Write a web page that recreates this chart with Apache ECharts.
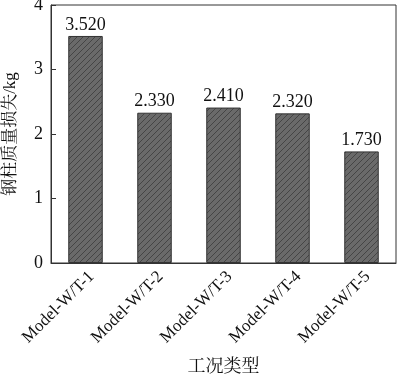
<!DOCTYPE html>
<html>
<head>
<meta charset="utf-8">
<script src="https://cdn.jsdelivr.net/npm/echarts@6/dist/echarts.min.js"></script>
<style>html,body{margin:0;padding:0;background:#fff}#c{width:400px;height:375px}</style>
</head>
<body>
<div id="c"></div>
<script>
const categories = ['Model-W/T-1', 'Model-W/T-2', 'Model-W/T-3', 'Model-W/T-4', 'Model-W/T-5'];
const massLoss = [3.52, 2.33, 2.41, 2.32, 1.73];
const yTicks = [0, 1, 2, 3, 4];
const xTitle = '工况类型';
const yTitle = '钢柱质量损失/kg';

const FONT = "'Liberation Serif', 'Noto Serif CJK SC', 'Noto Sans CJK SC', serif";

// hatch tile: dark diagonal lines "/" on grey
const T = 6;
const tile = document.createElement('canvas');
tile.width = T; tile.height = T;
const g = tile.getContext('2d');
g.fillStyle = '#6a6a6a';
g.fillRect(0, 0, T, T);
g.strokeStyle = '#454545';
g.lineWidth = 1;
g.beginPath();
g.moveTo(-T, T); g.lineTo(T, -T);
g.moveTo(0, T); g.lineTo(T, 0);
g.moveTo(0, 2 * T); g.lineTo(2 * T, 0);
g.stroke();

const chart = echarts.init(document.getElementById('c'), null, {renderer: 'canvas'});
chart.setOption({
  animation: false,
  grid: {left: 51, right: 4, top: 5, bottom: 112, outerBoundsMode: 'none', containLabel: false,
         show: true, borderColor: '#333', borderWidth: 1, backgroundColor: 'transparent'},
  xAxis: {
    type: 'category',
    data: categories,
    name: xTitle,
    nameLocation: 'middle',
    nameGap: 95,
    nameTextStyle: {fontFamily: FONT, fontSize: 18, color: '#111'},
    axisLine: {lineStyle: {color: '#333', width: 1}},
    axisTick: {show: false},
    axisLabel: {rotate: 45, fontFamily: FONT, fontSize: 17, color: '#111', margin: 5, interval: 0,
                align: 'right', verticalAlign: 'top'}
  },
  yAxis: {
    type: 'value',
    min: yTicks[0],
    max: yTicks[yTicks.length - 1],
    interval: 1,
    name: yTitle,
    nameLocation: 'middle',
    nameGap: 32,
    nameTextStyle: {fontFamily: FONT, fontSize: 17, color: '#111'},
    axisLine: {show: true, lineStyle: {color: '#333', width: 1}},
    axisTick: {show: true, inside: true, length: 5, lineStyle: {color: '#333'}},
    splitLine: {show: false},
    axisLabel: {fontFamily: FONT, fontSize: 18, color: '#111', margin: 8}
  },
  series: [{
    type: 'bar',
    data: massLoss,
    barWidth: '50%',
    itemStyle: {
      color: {image: tile, repeat: 'repeat'},
      borderColor: '#333',
      borderWidth: 1
    },
    label: {
      show: true,
      position: 'top',
      distance: 2,
      formatter: p => p.value.toFixed(3),
      fontFamily: FONT,
      fontSize: 18,
      color: '#111'
    }
  }]
});
</script>
</body>
</html>
